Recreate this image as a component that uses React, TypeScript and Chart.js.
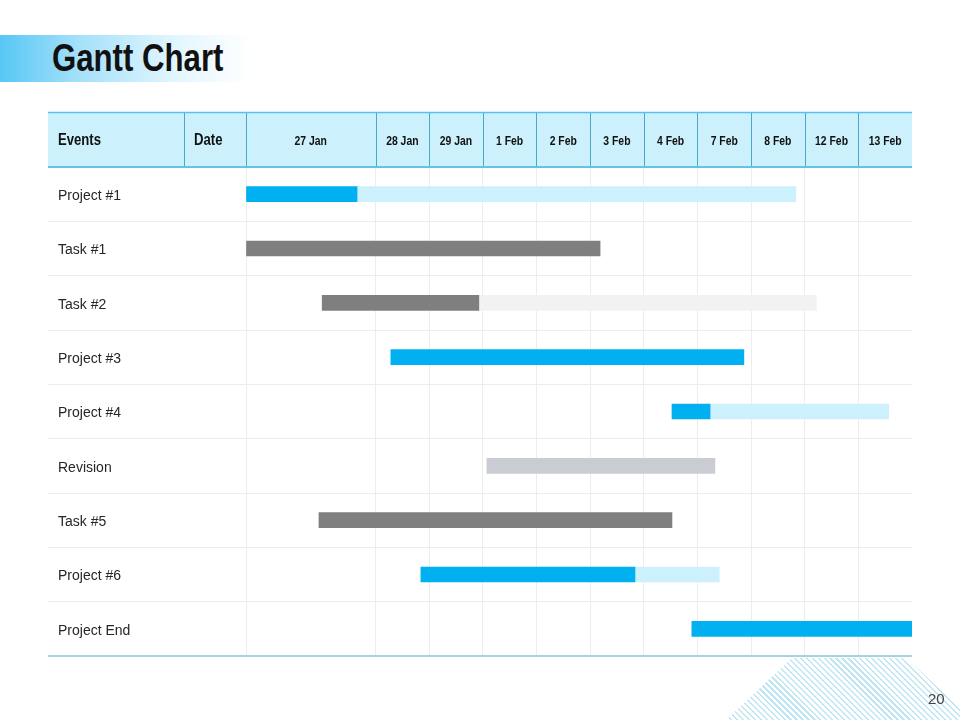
import React, { useEffect, useRef } from "react";
import { Chart, registerables } from "chart.js";

Chart.register(...registerables);

// ---- data ----
const events = ["Project #1", "Task #1", "Task #2", "Project #3", "Project #4", "Revision", "Task #5", "Project #6", "Project End"];
const dateLabels = ["27 Jan", "28 Jan", "29 Jan", "1 Feb", "2 Feb", "3 Feb", "4 Feb", "7 Feb", "8 Feb", "12 Feb", "13 Feb"];
// column edges on the timeline (27 Jan column is wider than the others)
const columnEdges = [0, 2.414, 3.414, 4.414, 5.414, 6.414, 7.414, 8.414, 9.414, 10.414, 11.414, 12.414];
const mainStart = [0, 0, 1.42, 2.7, 7.94, 4.49, 1.36, 3.26, 8.31];
const mainEnd = [2.07, 6.6, 4.34, 9.28, 8.65, 8.74, 7.94, 7.25, 12.414];
const restStart = [2.07, null, 4.34, null, 8.65, null, null, 7.25, null];
const restEnd = [10.25, null, 10.63, null, 11.98, null, null, 8.82, null];
const mainColors = ["#00b0f0", "#7f7f7f", "#7f7f7f", "#00b0f0", "#00b0f0", "#c9ccd3", "#7f7f7f", "#00b0f0", "#00b0f0"];
const restColors = ["#ccf0fc", "#f2f2f2", "#f2f2f2", "#ccf0fc", "#ccf0fc", "#f2f2f2", "#f2f2f2", "#ccf0fc", "#ccf0fc"];
const headerLeft = ["Events", "Date"];

const SANS = '"Liberation Sans", Arial, sans-serif';
const HEADER_TOP = 112;

const columnCenters = dateLabels.map((_, i) => (columnEdges[i] + columnEdges[i + 1]) / 2);

function narrowText(ctx: any, text: string, x: number, y: number, align: "left" | "center", sx: number) {
  ctx.save();
  ctx.translate(x, y);
  ctx.scale(sx, 1);
  ctx.textAlign = align;
  ctx.fillText(text, 0, 0);
  ctx.restore();
}

const headerPlugin = {
  id: "ganttHeader",
  beforeDraw(chart: any) {
    const ctx = chart.ctx;
    const area = chart.chartArea;
    ctx.save();
    ctx.fillStyle = "#ccf0fc";
    ctx.fillRect(48, HEADER_TOP, 864, area.top - HEADER_TOP);
    ctx.restore();
  },
  afterDraw(chart: any) {
    const ctx = chart.ctx;
    const xs = chart.scales.x;
    const area = chart.chartArea;
    ctx.save();
    // vertical dividers in header
    ctx.strokeStyle = "#4aa8c8";
    ctx.lineWidth = 1;
    const divs = [184, ...columnEdges.slice(0, -1).map((v: number) => xs.getPixelForValue(v))];
    divs.forEach((x: number) => {
      const px = Math.round(x) + 0.5;
      ctx.beginPath();
      ctx.moveTo(px, HEADER_TOP);
      ctx.lineTo(px, area.top);
      ctx.stroke();
    });
    // top and bottom header lines
    ctx.strokeStyle = "#55c3ea";
    ctx.lineWidth = 1.5;
    ctx.beginPath();
    ctx.moveTo(48, HEADER_TOP + 0.5);
    ctx.lineTo(912, HEADER_TOP + 0.5);
    ctx.stroke();
    ctx.strokeStyle = "#5fc4e8";
    ctx.lineWidth = 2;
    ctx.beginPath();
    ctx.moveTo(48, area.top);
    ctx.lineTo(912, area.top);
    ctx.stroke();
    // bottom line
    ctx.strokeStyle = "#a3d3df";
    ctx.lineWidth = 2;
    ctx.beginPath();
    ctx.moveTo(48, area.bottom);
    ctx.lineTo(912, area.bottom);
    ctx.stroke();
    // header texts
    const midY = (HEADER_TOP + area.top) / 2 + 1.5;
    ctx.fillStyle = "#111";
    ctx.strokeStyle = "#111";
    ctx.textBaseline = "middle";
    ctx.font = "bold 16px " + SANS;
    narrowText(ctx, headerLeft[0], 58, midY, "left", 0.82);
    narrowText(ctx, headerLeft[1], 194, midY, "left", 0.82);
    ctx.font = "bold 13px " + SANS;
    dateLabels.forEach((lab, i) => {
      narrowText(ctx, lab, xs.getPixelForValue(columnCenters[i]), midY, "center", 0.8);
    });
    ctx.restore();
  },
};

function GanttChart() {
  const ref = useRef<HTMLCanvasElement | null>(null);
  useEffect(() => {
    if (!ref.current) return;
    const chart = new Chart(ref.current, {
      type: "bar",
      data: {
        labels: events,
        datasets: [
          {
            label: "Progress",
            data: events.map((_, i) => [mainStart[i], mainEnd[i]]) as any,
            backgroundColor: mainColors,
            barThickness: 15,
            grouped: false,
            order: 0,
            borderWidth: 0,
          } as any,
          {
            label: "Remaining",
            data: events.map((_, i) => (restStart[i] === null ? null : [restStart[i], restEnd[i]])) as any,
            backgroundColor: restColors,
            barThickness: 15,
            grouped: false,
            order: 1,
            borderWidth: 0,
          } as any,
        ],
      },
      options: {
        indexAxis: "y",
        responsive: false,
        animation: false,
        layout: { padding: { left: 58, right: 48, top: 167, bottom: 64 } },
        plugins: { legend: { display: false }, tooltip: { enabled: false } },
        scales: {
          x: {
            type: "linear",
            position: "bottom",
            min: 0,
            max: 12.414,
            afterBuildTicks: (s: any) => {
              s.ticks = columnEdges.slice(0, -1).map((v) => ({ value: v }));
            },
            afterFit: (s: any) => {
              s.height = 0;
            },
            ticks: { display: false },
            grid: { color: "#ededed", drawTicks: false, lineWidth: 1 },
            border: { display: false },
          },
          y: {
            type: "category",
            position: "left",
            afterFit: (s: any) => {
              s.width = 188;
            },
            ticks: {
              crossAlign: "far",
              labelOffset: 2,
              color: "#262626",
              font: { family: SANS, size: 14 },
            },
            grid: { color: "#ededed", offset: true, drawTicks: true, tickLength: 198, lineWidth: 1 },
            border: { display: false },
          },
        },
      } as any,
      plugins: [headerPlugin],
    });
    return () => chart.destroy();
  }, []);
  return <canvas ref={ref} width={960} height={720} style={{ position: "absolute", left: 0, top: 0, width: 960, height: 720 }} />;
}

export default function App() {
  return (
    <div style={{ position: "fixed", left: 0, top: 0, width: 960, height: 720, background: "#fff", overflow: "hidden" }}>
      <div
        style={{
          position: "absolute",
          left: 0,
          top: 35,
          width: 258,
          height: 47,
          background: "linear-gradient(90deg, #57c7f5 0%, #a4e0fa 30%, #e2f6fe 68%, #ffffff 97%)",
        }}
      />
      <div
        style={{
          position: "absolute",
          left: 52,
          top: 35,
          height: 47,
          lineHeight: "47px",
          fontFamily: SANS,
          fontWeight: "bold",
          fontSize: 38,
          color: "#111",
          whiteSpace: "nowrap",
          transform: "scaleX(0.82)",
          transformOrigin: "0 0",
        }}
      >
        Gantt Chart
      </div>
      <div
        style={{
          position: "absolute",
          left: 0,
          top: 0,
          width: 960,
          height: 720,
          background: "repeating-linear-gradient(45deg, #bfe6f2 0px, #bfe6f2 1.6px, rgba(255,255,255,0) 1.6px, rgba(255,255,255,0) 4.2px)",
          clipPath: "polygon(792px 658px, 906px 658px, 960px 708px, 960px 720px, 726px 720px)",
        }}
      />
      <GanttChart />
      <div
        style={{
          position: "absolute",
          left: 928,
          top: 690,
          fontFamily: SANS,
          fontSize: 15,
          color: "#444",
        }}
      >
        20
      </div>
    </div>
  );
}
